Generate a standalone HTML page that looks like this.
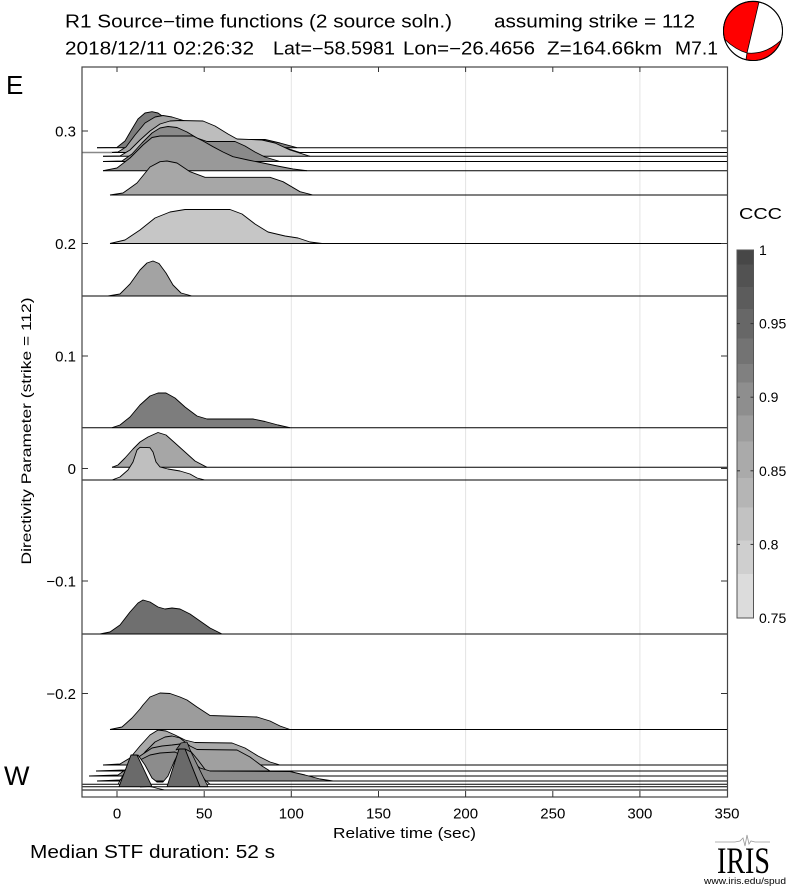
<!DOCTYPE html>
<html><head><meta charset="utf-8"><style>
html,body{margin:0;padding:0;background:#fff;}
svg{display:block;}
text{font-family:"Liberation Sans",Arial,sans-serif;fill:#000;}
</style></head><body>
<svg width="800" height="887" viewBox="0 0 800 887" xmlns="http://www.w3.org/2000/svg">
<defs>
<linearGradient id="cb" x1="0" y1="0" x2="0" y2="1">
<stop offset="0" stop-color="#474747"/><stop offset="0.04" stop-color="#474747"/>
<stop offset="0.04" stop-color="#525252"/><stop offset="0.1" stop-color="#525252"/>
<stop offset="0.1" stop-color="#5c5c5c"/><stop offset="0.16" stop-color="#5c5c5c"/>
<stop offset="0.16" stop-color="#676767"/><stop offset="0.24" stop-color="#676767"/>
<stop offset="0.24" stop-color="#737373"/><stop offset="0.31" stop-color="#737373"/>
<stop offset="0.31" stop-color="#808080"/><stop offset="0.36" stop-color="#808080"/>
<stop offset="0.36" stop-color="#8e8e8e"/><stop offset="0.45" stop-color="#8e8e8e"/>
<stop offset="0.45" stop-color="#9d9d9d"/><stop offset="0.52" stop-color="#9d9d9d"/>
<stop offset="0.52" stop-color="#aaaaaa"/><stop offset="0.62" stop-color="#aaaaaa"/>
<stop offset="0.62" stop-color="#b5b5b5"/><stop offset="0.7" stop-color="#b5b5b5"/>
<stop offset="0.7" stop-color="#c2c2c2"/><stop offset="0.79" stop-color="#c2c2c2"/>
<stop offset="0.79" stop-color="#cfcfcf"/><stop offset="0.88" stop-color="#cfcfcf"/>
<stop offset="0.88" stop-color="#dcdcdc"/><stop offset="1" stop-color="#dcdcdc"/>
</linearGradient>
</defs>

<!-- Title -->
<text x="65" y="27.5" font-size="18" textLength="387" lengthAdjust="spacingAndGlyphs">R1 Source−time functions (2 source soln.)</text>
<text x="494" y="27.5" font-size="18" textLength="201" lengthAdjust="spacingAndGlyphs">assuming strike = 112</text>
<text x="65" y="54.3" font-size="18" textLength="189" lengthAdjust="spacingAndGlyphs">2018/12/11 02:26:32</text>
<text x="273" y="54.3" font-size="18" textLength="122" lengthAdjust="spacingAndGlyphs">Lat=−58.5981</text>
<text x="403" y="54.3" font-size="18" textLength="132" lengthAdjust="spacingAndGlyphs">Lon=−26.4656</text>
<text x="547" y="54.3" font-size="18" textLength="115" lengthAdjust="spacingAndGlyphs">Z=164.66km</text>
<text x="675" y="54.3" font-size="18" textLength="43" lengthAdjust="spacingAndGlyphs">M7.1</text>

<!-- Beachball -->
<circle cx="753" cy="31" r="29.5" fill="#fff" stroke="#000" stroke-width="1"/>
<path d="M759,1.8 A29.5,29.5 0 0 0 724.8,39.5 Q736,50 747,53 Z" fill="#ff0000" stroke="#000" stroke-width="0.8"/>
<path d="M747,53 Q765,55 781,40.3 A29.5,29.5 0 0 1 746,59.6 Z" fill="#ff0000" stroke="#000" stroke-width="0.8"/>
<circle cx="753" cy="31" r="29.5" fill="none" stroke="#000" stroke-width="1"/>

<!-- E / W -->
<text x="6" y="94" font-size="26">E</text>
<text x="4" y="785" font-size="27">W</text>

<!-- grid -->
<g stroke="#e4e4e4" stroke-width="1">
<line x1="291.3" y1="67" x2="291.3" y2="797"/>
<line x1="465.6" y1="67" x2="465.6" y2="797"/>
<line x1="639.9" y1="67" x2="639.9" y2="797"/>
</g>

<!-- Traces -->
<g stroke-linejoin="round">
<!-- a -->
<polygon points="97,147.7 117,147.4 125,141 132,129 138,119 145,113 152,111.7 158,113 165,118 180,124 200,130 220,136 237,139.3 265,139.5 280,143 297,147.7" fill="#7c7c7c"/>
<polyline points="97,147.7 117,147.4 125,141 132,129 138,119 145,113 152,111.7 158,113 165,118 180,124 200,130 220,136 237,139.3 265,139.5 280,143 297,147.7" fill="none" stroke="#000" stroke-width="0.9"/>
<line x1="97" y1="147.7" x2="727" y2="147.7" stroke="#000" stroke-width="1"/>
<!-- b -->
<polygon points="110,152.5 118,152 126,147 135,135 145,123 155,117 163,115.5 172,117 185,121 200,127 220,135 240,140.5 262,141 280,146 300,152.5" fill="#a3a3a3"/>
<polyline points="110,152.5 118,152 126,147 135,135 145,123 155,117 163,115.5 172,117 185,121 200,127 220,135 240,140.5 262,141 280,146 300,152.5" fill="none" stroke="#000" stroke-width="0.9"/>
<line x1="82" y1="152.5" x2="112" y2="152.5" stroke="#888" stroke-width="1.6"/>
<line x1="112" y1="152.5" x2="727" y2="152.5" stroke="#000" stroke-width="1"/>
<!-- c -->
<polygon points="103,156.3 120,156 130,150 140,140 150,131 160,124 170,121 180,120.5 203,121 215,126 228,134 237,139 262,140 275,143 290,150 310,156.3" fill="#bdbdbd"/>
<polyline points="103,156.3 120,156 130,150 140,140 150,131 160,124 170,121 180,120.5 203,121 215,126 228,134 237,139 262,140 275,143 290,150 310,156.3" fill="none" stroke="#000" stroke-width="0.9"/>
<line x1="103" y1="156.3" x2="727" y2="156.3" stroke="#000" stroke-width="1"/>
<!-- d -->
<polygon points="103,161.5 122,161 132,154 142,143 152,133 160,128 168,126.5 177,127.5 187,132 197,138 207,141.5 235,141.5 245,146 255,152 265,157 280,161.5" fill="#8a8a8a"/>
<polyline points="103,161.5 122,161 132,154 142,143 152,133 160,128 168,126.5 177,127.5 187,132 197,138 207,141.5 235,141.5 245,146 255,152 265,157 280,161.5" fill="none" stroke="#000" stroke-width="0.9"/>
<line x1="103" y1="161.5" x2="727" y2="161.5" stroke="#000" stroke-width="1"/>
<!-- e -->
<polygon points="103,170.7 117,168 130,158 143,145 152,137.5 160,136 193,136 203,141 213,146.7 223,152 233,156.7 248,160 263,163 280,166.5 293,169 307,170.7" fill="#999"/>
<polyline points="103,170.7 117,168 130,158 143,145 152,137.5 160,136 193,136 203,141 213,146.7 223,152 233,156.7 248,160 263,163 280,166.5 293,169 307,170.7" fill="none" stroke="#000" stroke-width="0.9"/>
<line x1="103" y1="170.7" x2="727" y2="170.7" stroke="#000" stroke-width="1"/>
<!-- f -->
<polygon points="110,195 123,193 137,183 150,167 160,161.7 167,161 177,163 190,171.7 205,177.3 270,177.3 283,181.7 300,191.7 313,195" fill="#a7a7a7"/>
<polyline points="110,195 123,193 137,183 150,167 160,161.7 167,161 177,163 190,171.7 205,177.3 270,177.3 283,181.7 300,191.7 313,195" fill="none" stroke="#000" stroke-width="0.9"/>
<line x1="110" y1="195" x2="727" y2="195" stroke="#000" stroke-width="1"/>
<!-- g -->
<polygon points="110,243.5 125,240 140,230 155,218 170,212 185,209.5 230,209.5 242,214 255,224 268,232 285,236 298,238 310,242 322,243.5" fill="#c6c6c6"/>
<polyline points="110,243.5 125,240 140,230 155,218 170,212 185,209.5 230,209.5 242,214 255,224 268,232 285,236 298,238 310,242 322,243.5" fill="none" stroke="#000" stroke-width="0.9"/>
<line x1="110" y1="243.5" x2="727" y2="243.5" stroke="#000" stroke-width="1"/>
<!-- h -->
<polygon points="108,296 120,294 130,284 140,270 147,263 153,261 159,263.5 166,273 173,285 181,293 192,296" fill="#a3a3a3"/>
<polyline points="108,296 120,294 130,284 140,270 147,263 153,261 159,263.5 166,273 173,285 181,293 192,296" fill="none" stroke="#000" stroke-width="0.9"/>
<line x1="82" y1="296" x2="727" y2="296" stroke="#000" stroke-width="1"/>
<!-- i -->
<polygon points="112,427.7 120,425 130,417 140,405 150,396 158,393 166,393 175,398 185,407 197,416 207,419 253,419 265,421.5 278,425 290,427.7" fill="#7d7d7d"/>
<polyline points="112,427.7 120,425 130,417 140,405 150,396 158,393 166,393 175,398 185,407 197,416 207,419 253,419 265,421.5 278,425 290,427.7" fill="none" stroke="#000" stroke-width="0.9"/>
<line x1="82" y1="427.7" x2="727" y2="427.7" stroke="#000" stroke-width="1"/>
<!-- j -->
<polygon points="112,467.3 118,465 125,458 133,449 140,442 148,437 158,432.5 166,435 175,443 185,452 195,461 207,467.3" fill="#a6a6a6"/>
<polyline points="112,467.3 118,465 125,458 133,449 140,442 148,437 158,432.5 166,435 175,443 185,452 195,461 207,467.3" fill="none" stroke="#000" stroke-width="0.9"/>
<line x1="112" y1="467.3" x2="727" y2="467.3" stroke="#000" stroke-width="1"/>
<!-- k -->
<polygon points="112,480 120,477 128,470 133,462 137,450 140,447.3 150,447.7 153,452 156,462 160,467 168,469 180,471 190,474 197,478 205,480" fill="#bfbfbf"/>
<polyline points="112,480 120,477 128,470 133,462 137,450 140,447.3 150,447.7 153,452 156,462 160,467 168,469 180,471 190,474 197,478 205,480" fill="none" stroke="#000" stroke-width="0.9"/>
<line x1="82" y1="480" x2="727" y2="480" stroke="#000" stroke-width="1"/>
<!-- l -->
<polygon points="100,634 110,632 120,625 130,612 138,603 143,600 150,602 158,607 165,609 172,608 180,609 190,614 200,621 210,628 222,634" fill="#6f6f6f"/>
<polyline points="100,634 110,632 120,625 130,612 138,603 143,600 150,602 158,607 165,609 172,608 180,609 190,614 200,621 210,628 222,634" fill="none" stroke="#000" stroke-width="0.9"/>
<line x1="82" y1="634" x2="727" y2="634" stroke="#000" stroke-width="1"/>
<!-- m -->
<polygon points="110,729.5 122,727 132,718 140,709 143,705 150,697 160,693 170,693.5 180,697 187,700 197,707 210,715.5 257,717 270,721 280,726 290,729.5" fill="#9c9c9c"/>
<polyline points="110,729.5 122,727 132,718 140,709 143,705 150,697 160,693 170,693.5 180,697 187,700 197,707 210,715.5 257,717 270,721 280,726 290,729.5" fill="none" stroke="#000" stroke-width="0.9"/>
<line x1="110" y1="729.5" x2="727" y2="729.5" stroke="#000" stroke-width="1"/>
<!-- n -->
<polygon points="103,765 120,764 130,758 140,746 150,735 158,730 166,731 175,735 185,740 195,742.5 232,743 245,748 258,756 270,762 280,765" fill="#a9a9a9"/>
<polyline points="103,765 120,764 130,758 140,746 150,735 158,730 166,731 175,735 185,740 195,742.5 232,743 245,748 258,756 270,762 280,765" fill="none" stroke="#000" stroke-width="0.9"/>
<line x1="103" y1="765" x2="727" y2="765" stroke="#000" stroke-width="1"/>
<!-- o -->
<polygon points="96,771 125,770 135,764 145,752 155,742 165,737 172,736 180,738 190,746 197,749.5 237,750 250,757 262,766 270,771" fill="#a0a0a0"/>
<polyline points="96,771 125,770 135,764 145,752 155,742 165,737 172,736 180,738 190,746 197,749.5 237,750 250,757 262,766 270,771" fill="none" stroke="#000" stroke-width="0.9"/>
<line x1="96" y1="771" x2="727" y2="771" stroke="#000" stroke-width="1"/>
<!-- p -->
<polygon points="89,776 118,775 128,768 140,756 152,748 162,746 172,745 180,744 188,748 198,760 207,772 212,776" fill="#999"/>
<polyline points="89,776 118,775 128,768 140,756 152,748 162,746 172,745 180,744 188,748 198,760 207,772 212,776" fill="none" stroke="#000" stroke-width="0.9"/>
<line x1="89" y1="776" x2="727" y2="776" stroke="#000" stroke-width="1"/>
<!-- q -->
<polygon points="97,781 120,780 130,770 140,760 150,755 160,753 175,752 190,760 200,768 210,771 290,771.5 305,775 320,779 333,781" fill="#8c8c8c"/>
<polyline points="97,781 120,780 130,770 140,760 150,755 160,753 175,752 190,760 200,768 210,771 290,771.5 305,775 320,779 333,781" fill="none" stroke="#000" stroke-width="0.9"/>
<line x1="97" y1="781" x2="727" y2="781" stroke="#000" stroke-width="1"/>
<!-- r (white two-peak) -->
<polygon points="118,784.3 126,770 132,758 138,755 145,765 152,778 157,782 163,782 168,776 174,762 179,752 186,750 195,765 205,780 210,784.3" fill="#fff"/>
<polyline points="118,784.3 126,770 132,758 138,755 145,765 152,778 157,782 163,782 168,776 174,762 179,752 186,750 195,765 205,780 210,784.3" fill="none" stroke="#000" stroke-width="0.9"/>
<line x1="82" y1="784.3" x2="727" y2="784.3" stroke="#000" stroke-width="1"/>
<!-- small diamond -->
<polygon points="176,750 181,743 187,742 191,752 185,749 179,749" fill="#777" stroke="#000" stroke-width="0.8"/>
<polygon points="185,749 191,752 208,786.7 200,786.7" fill="#8a8a8a" stroke="#000" stroke-width="0.8"/>
<!-- s (dark triangles) -->
<polygon points="119,786.7 131,755 137,755 152,786.7 167,786.7 179,749 185,749 200,786.7" fill="#6a6a6a"/>
<polyline points="119,786.7 131,755 137,755 152,786.7" fill="none" stroke="#000" stroke-width="0.9"/>
<polyline points="167,786.7 179,749 185,749 200,786.7" fill="none" stroke="#000" stroke-width="0.9"/>
<line x1="82" y1="786.7" x2="727" y2="786.7" stroke="#000" stroke-width="1"/>
<!-- t -->
<polyline points="140,787 150,786.5 158,788.5 165,790" fill="none" stroke="#000" stroke-width="0.8"/>
<line x1="82" y1="790" x2="727" y2="790" stroke="#000" stroke-width="1"/>
</g>

<!-- Axes box -->
<rect x="82" y="67" width="645.5" height="730" fill="none" stroke="#444" stroke-width="1.2"/>
<!-- x ticks -->
<g stroke="#333" stroke-width="1">
<line x1="117" y1="797" x2="117" y2="791"/><line x1="204.2" y1="797" x2="204.2" y2="791"/>
<line x1="291.3" y1="797" x2="291.3" y2="791"/><line x1="378.5" y1="797" x2="378.5" y2="791"/>
<line x1="465.6" y1="797" x2="465.6" y2="791"/><line x1="552.8" y1="797" x2="552.8" y2="791"/>
<line x1="639.9" y1="797" x2="639.9" y2="791"/>
<line x1="117" y1="67" x2="117" y2="72"/><line x1="204.2" y1="67" x2="204.2" y2="72"/>
<line x1="291.3" y1="67" x2="291.3" y2="72"/><line x1="378.5" y1="67" x2="378.5" y2="72"/>
<line x1="465.6" y1="67" x2="465.6" y2="72"/><line x1="552.8" y1="67" x2="552.8" y2="72"/>
<line x1="639.9" y1="67" x2="639.9" y2="72"/>
<!-- y ticks -->
<line x1="82" y1="131" x2="88" y2="131"/><line x1="82" y1="243.5" x2="88" y2="243.5"/>
<line x1="82" y1="356" x2="88" y2="356"/><line x1="82" y1="468.5" x2="88" y2="468.5"/>
<line x1="82" y1="581" x2="88" y2="581"/><line x1="82" y1="693.5" x2="88" y2="693.5"/>
<line x1="721" y1="131" x2="727" y2="131"/><line x1="721" y1="243.5" x2="727" y2="243.5"/>
<line x1="721" y1="356" x2="727" y2="356"/><line x1="721" y1="468.5" x2="727" y2="468.5"/>
<line x1="721" y1="581" x2="727" y2="581"/><line x1="721" y1="693.5" x2="727" y2="693.5"/>
</g>

<!-- y tick labels -->
<g font-size="15" text-anchor="end">
<text x="76" y="136.3">0.3</text>
<text x="76" y="248.8">0.2</text>
<text x="76" y="361.3">0.1</text>
<text x="76" y="473.8">0</text>
<text x="76" y="586.3">−0.1</text>
<text x="76" y="698.8">−0.2</text>
</g>
<text transform="translate(31,431) rotate(-90)" font-size="14" text-anchor="middle" textLength="267" lengthAdjust="spacingAndGlyphs">Directivity Parameter (strike = 112)</text>

<!-- x tick labels -->
<g font-size="15" text-anchor="middle">
<text x="117" y="818.3">0</text>
<text x="204.2" y="818.3">50</text>
<text x="291.3" y="818.3">100</text>
<text x="378.5" y="818.3">150</text>
<text x="465.6" y="818.3">200</text>
<text x="552.8" y="818.3">250</text>
<text x="639.9" y="818.3">300</text>
<text x="727" y="818.3">350</text>
</g>
<text x="333" y="838" font-size="15" textLength="143" lengthAdjust="spacingAndGlyphs">Relative time (sec)</text>

<text x="30" y="858" font-size="18" textLength="245" lengthAdjust="spacingAndGlyphs">Median STF duration: 52 s</text>

<!-- Colorbar -->
<text x="739" y="219" font-size="16" textLength="43" lengthAdjust="spacingAndGlyphs">CCC</text>
<rect x="737" y="250" width="16.5" height="368" fill="url(#cb)" stroke="#555" stroke-width="1"/>
<g stroke="#333" stroke-width="1">
<line x1="737" y1="323.6" x2="740" y2="323.6"/><line x1="750.5" y1="323.6" x2="753.5" y2="323.6"/>
<line x1="737" y1="397.2" x2="740" y2="397.2"/><line x1="750.5" y1="397.2" x2="753.5" y2="397.2"/>
<line x1="737" y1="470.8" x2="740" y2="470.8"/><line x1="750.5" y1="470.8" x2="753.5" y2="470.8"/>
<line x1="737" y1="544.4" x2="740" y2="544.4"/><line x1="750.5" y1="544.4" x2="753.5" y2="544.4"/>
</g>
<g font-size="14">
<text x="759" y="255">1</text>
<text x="759" y="328.6">0.95</text>
<text x="759" y="402.2">0.9</text>
<text x="759" y="475.8">0.85</text>
<text x="759" y="549.4">0.8</text>
<text x="759" y="623">0.75</text>
</g>

<!-- IRIS logo -->
<polyline points="715,842 735,842 740,841 743,838 745,846 747,835 749,844 751,841 755,842 770,842" fill="none" stroke="#999" stroke-width="0.8"/>
<text x="717" y="873" font-family="Liberation Serif,serif" font-size="37" textLength="53" lengthAdjust="spacingAndGlyphs" style="font-family:'Liberation Serif',serif">IRIS</text>
<text x="704" y="884" font-size="9.5" textLength="82" lengthAdjust="spacingAndGlyphs">www.iris.edu/spud</text>
</svg>
</body></html>
